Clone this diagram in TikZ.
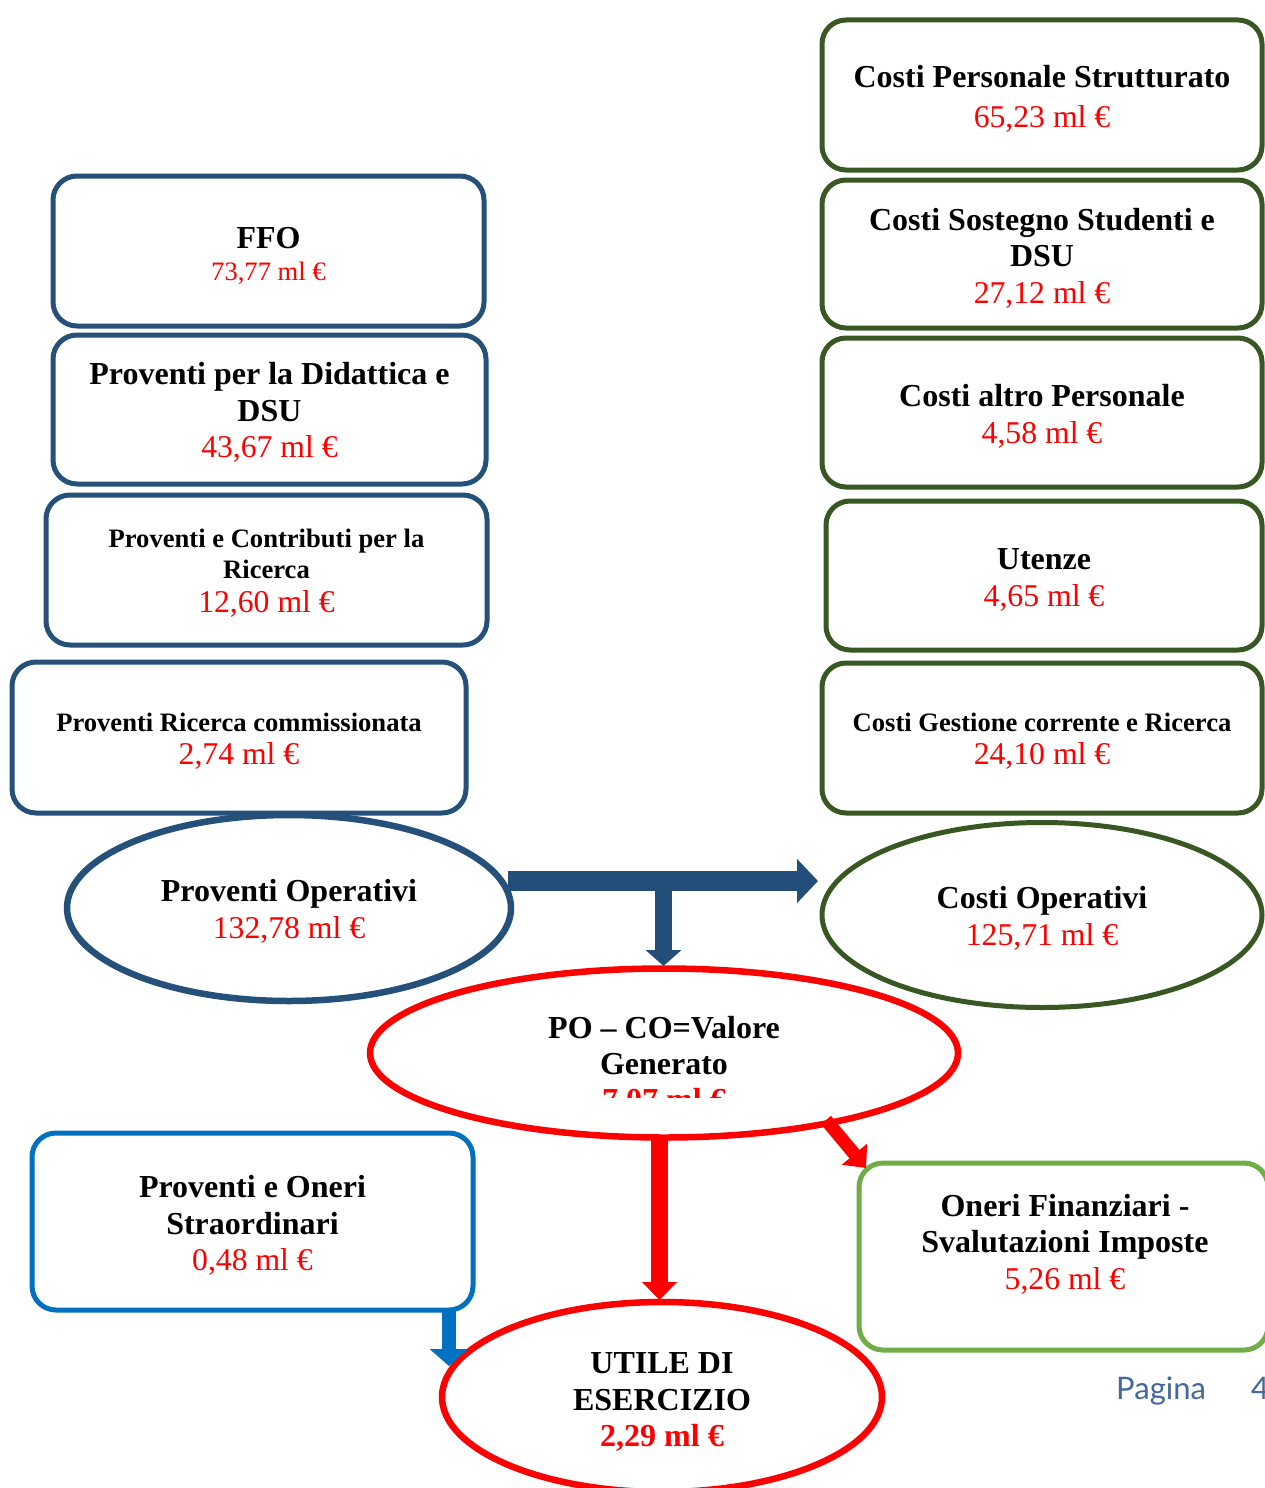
\documentclass[tikz,border=0pt]{standalone}
\usepackage{fontspec}
\setmainfont{Liberation Serif}
\newfontfamily\pagfont{Lato}
\usetikzlibrary{shapes.geometric,arrows.meta}
\definecolor{pblue}{RGB}{36,80,122}
\definecolor{cgreen}{RGB}{56,87,35}
\definecolor{sblue}{RGB}{0,112,192}
\definecolor{ogreen}{RGB}{112,173,71}
\definecolor{ablue}{RGB}{34,78,121}
\definecolor{pagc}{RGB}{68,104,156}
\newcommand{\tb}{\bfseries\fontsize{32}{36.5}\selectfont}
\newcommand{\ts}{\bfseries\fontsize{26.6}{31}\selectfont}
\newcommand{\vl}[1]{{\color{red}\fontsize{31.7}{36.5}\selectfont #1}}
\newcommand{\lf}[1][30pt]{\rule{0pt}{#1}}
\tikzset{
  box/.style={rounded corners=24pt, line width=5pt, inner sep=0pt, align=center,
    font=\fontsize{32}{36.5}\selectfont},
  lbox/.style={box, draw=pblue},
  rbox/.style={box, draw=cgreen},
  oval/.style={ellipse, inner sep=0pt, align=center, font=\fontsize{32}{36.5}\selectfont},
  blockarrow/.style n args={4}{draw=#1, line width=#2, -{Triangle[length=#3,width=#4]}},
}
\begin{document}
\begin{tikzpicture}[x=1pt,y=-1pt]
\useasboundingbox[fill=white] (0,0) rectangle (1265,1488);

% left boxes
\node[lbox, minimum width=431pt, minimum height=150pt] (ffo) at (268.5,251)
  {{\tb\lf[31pt]FFO}\\[-5pt]{\color{red}\fontsize{26.6}{30}\selectfont 73,77 ml €}};
\node[lbox, minimum width=433pt, minimum height=149pt] (did) at (269.5,409.5)
  {{\tb\lf[28pt]Proventi per la Didattica e}\\{\tb DSU}\\\vl{43,67 ml €}};
\node[lbox, minimum width=441pt, minimum height=150pt] (ric) at (266.5,570)
  {{\ts\lf[25pt]Proventi e Contributi per la}\\[-5.5pt]{\ts Ricerca}\\[-2.5pt]\vl{12,60 ml €}};
\node[lbox, minimum width=454pt, minimum height=151pt] (com) at (239,737.5)
  {{\ts\lf[26pt]Proventi Ricerca commissionata}\\[-3.5pt]\vl{2,74 ml €}};

% right boxes
\node[rbox, minimum width=440pt, minimum height=150pt] (cps) at (1042,95)
  {{\tb\lf Costi Personale Strutturato}\\[3.5pt]\vl{65,23 ml €}};
\node[rbox, minimum width=440pt, minimum height=148pt] (css) at (1042,254)
  {{\tb\lf Costi Sostegno Studenti e}\\{\tb DSU}\\\vl{27,12 ml €}};
\node[rbox, minimum width=440pt, minimum height=149pt] (cap) at (1042,412.5)
  {{\tb\lf Costi altro Personale}\\\vl{4,58 ml €}};
\node[rbox, minimum width=436pt, minimum height=149pt] (ute) at (1044,575.5)
  {{\tb\lf Utenze}\\\vl{4,65 ml €}};
\node[rbox, minimum width=440pt, minimum height=150pt] (cgc) at (1042,738)
  {{\ts\lf[25pt]Costi Gestione corrente e Ricerca}\\[-3.5pt]\vl{24,10 ml €}};

% ellipses
\node[oval, draw=pblue, line width=6.5pt, minimum width=444pt, minimum height=186pt] (po) at (289,908)
  {{\tb\lf[29pt]Proventi Operativi}\\\vl{132,78 ml €}};
\node[oval, draw=cgreen, line width=5pt, minimum width=440pt, minimum height=185pt] (co) at (1042,915)
  {{\tb\lf[29pt]Costi Operativi}\\\vl{125,71 ml €}};
\node[oval, draw=red, line width=6.5pt, minimum width=588pt, minimum height=169pt] (vg) at (664,1053) {};
\begin{scope}
  \clip (0,0) rectangle (1265,1097);
  \node[align=center, inner sep=0pt, font=\fontsize{32}{36}\selectfont] (vgt) at (664,1066)
    {{\tb PO – CO=Valore}\\{\tb Generato}\\{\tb\color{red} 7,07 ml €}};
\end{scope}
\node[oval, draw=red, line width=6.5pt, minimum width=440pt, minimum height=190pt] (ue) at (662,1397)
  {{\tb\lf[31pt]UTILE DI}\\{\tb ESERCIZIO}\\{\tb\color{red} 2,29 ml €}};

% lower boxes
\node[box, draw=sblue, minimum width=441pt, minimum height=177pt] (str) at (252.5,1221.5)
  {{\tb\lf Proventi e Oneri}\\{\tb Straordinari}\\\vl{0,48 ml €}};
\node[box, draw=ogreen, minimum width=409pt, minimum height=187pt] (onf) at (1063.5,1256.5) {};
\node[align=center, inner sep=0pt, font=\fontsize{32}{36.5}\selectfont] (onft) at (1065,1244)
  {{\tb Oneri Finanziari -}\\{\tb Svalutazioni Imposte}\\\vl{5,26 ml €}};

% arrows
\coordinate (h1) at (508,881);
\coordinate (h2) at (818,881);
\coordinate (v1) at (663.5,886);
\coordinate (v2) at (663.5,966);
\coordinate (r1) at (659.5,1135);
\coordinate (r2) at (659.5,1300);
\coordinate (d1) at (826,1120);
\coordinate (d2) at (866,1168);
\coordinate (s1) at (449,1310);
\coordinate (s2) at (449,1366);
\draw[blockarrow={ablue}{20pt}{21pt}{43pt}] (h1) -- (h2);
\draw[blockarrow={ablue}{17pt}{16pt}{35pt}] (v1) -- (v2);
\draw[blockarrow={red}{17pt}{18pt}{34pt}] (r1) -- (r2);
\draw[blockarrow={red}{13pt}{18pt}{32pt}] (d1) -- (d2);
\draw[blockarrow={sblue}{14pt}{17pt}{38pt}] (s1) -- (s2);

% page footer
\node[anchor=base west, inner sep=0pt, text=pagc, font=\pagfont\fontsize{31}{36}\selectfont] (pag) at (1116,1399) {Pagina};
\node[anchor=base west, inner sep=0pt, text=pagc, font=\pagfont\fontsize{31}{36}\selectfont] (pnum) at (1251,1399) {4};
\end{tikzpicture}
\end{document}
